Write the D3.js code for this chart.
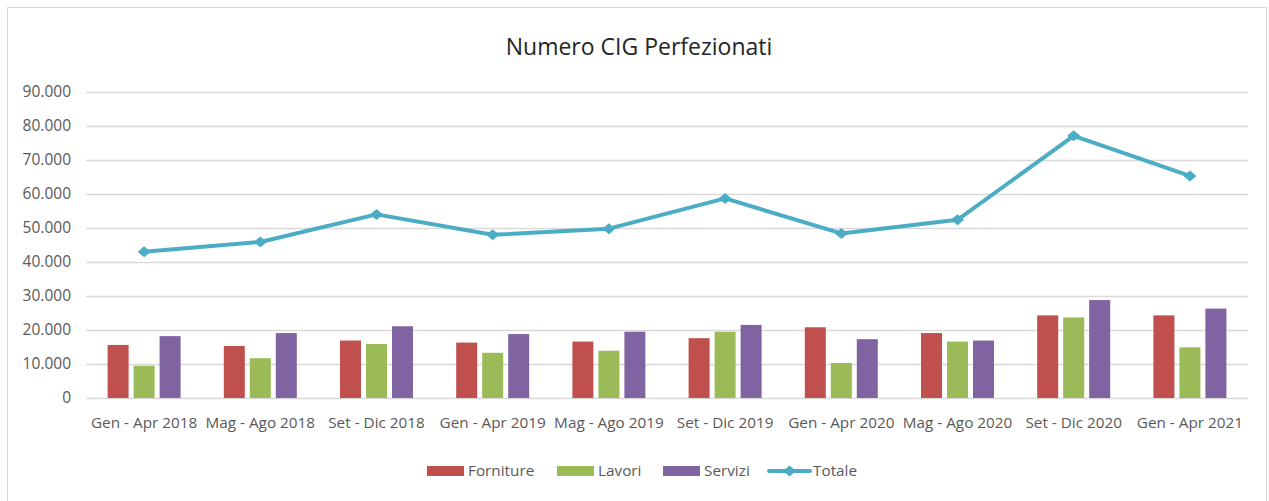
<!DOCTYPE html>
<html>
<head>
<meta charset="utf-8">
<script src="https://cdn.jsdelivr.net/npm/d3@7"></script>
<style>
  body { margin: 0; background: #fff; }
  svg { display: block; font-family: "Open Sans", sans-serif; }
</style>
</head>
<body>
<div id="chart"></div>
<script>
const categories = [
  'Gen - Apr 2018', 'Mag - Ago 2018', 'Set - Dic 2018',
  'Gen - Apr 2019', 'Mag - Ago 2019', 'Set - Dic 2019',
  'Gen - Apr 2020', 'Mag - Ago 2020', 'Set - Dic 2020',
  'Gen - Apr 2021'
];
const forniture = [15600, 15300, 16900, 16300, 16600, 17600, 20800, 19100, 24300, 24300];
const lavori    = [9500, 11700, 15900, 13300, 13900, 19500, 10300, 16600, 23700, 14900];
const servizi   = [18200, 19100, 21100, 18800, 19500, 21500, 17300, 16900, 28800, 26300];
const totale    = [43000, 45900, 54000, 48000, 49800, 58700, 48400, 52400, 77100, 65300];
const yTicks = [0, 10000, 20000, 30000, 40000, 50000, 60000, 70000, 80000, 90000];

const seriesNames = ['Forniture', 'Lavori', 'Servizi'];
const seriesColors = ['#C0504D', '#9BBB59', '#8064A2'];
const lineColor = '#4BACC6';

const width = 1269, height = 501;
const margin = { left: 86, right: 21, top: 92, bottom: 103 };

const svg = d3.select('#chart').append('svg')
  .attr('width', width)
  .attr('height', height);

// chart frame
svg.append('rect')
  .attr('x', 7.5).attr('y', 7.5)
  .attr('width', 1259).attr('height', 500)
  .attr('fill', 'none')
  .attr('stroke', '#d9d9d9');

svg.append('text')
  .attr('x', 639).attr('y', 55)
  .attr('text-anchor', 'middle')
  .attr('font-size', 23)
  .attr('fill', '#262626')
  .text('Numero CIG Perfezionati');

const x = d3.scaleBand()
  .domain(categories)
  .range([margin.left, width - margin.right]);

const y = d3.scaleLinear()
  .domain([0, 90000])
  .range([height - margin.bottom, margin.top]);

const fmt = v => v === 0 ? '0' : d3.format(',')(v).replace(/,/g, '.');

// gridlines
svg.append('g')
  .selectAll('line')
  .data(yTicks)
  .join('line')
  .attr('x1', margin.left).attr('x2', width - margin.right)
  .attr('y1', d => Math.round(y(d)) + 0.5).attr('y2', d => Math.round(y(d)) + 0.5)
  .attr('stroke', '#d9d9d9')
  .attr('stroke-width', 1.5);

// y axis labels
const yAxis = svg.append('g')
  .attr('transform', `translate(${margin.left},0)`)
  .call(d3.axisLeft(y).tickValues(yTicks).tickFormat(fmt).tickSize(0).tickPadding(15));
yAxis.select('.domain').remove();
yAxis.selectAll('text')
  .attr('font-family', '"Open Sans", sans-serif')
  .attr('font-size', 15.5)
  .attr('fill', '#595959');

// x axis labels
const xAxis = svg.append('g')
  .attr('transform', `translate(0,${height - margin.bottom})`)
  .call(d3.axisBottom(x).tickSize(0).tickPadding(19));
xAxis.select('.domain').remove();
xAxis.selectAll('text')
  .attr('font-family', '"Open Sans", sans-serif')
  .attr('font-size', 15.3)
  .attr('fill', '#595959');

// bars
const slot = 26, barW = 21;
const data = [forniture, lavori, servizi];
data.forEach((vals, si) => {
  svg.append('g')
    .selectAll('rect')
    .data(vals)
    .join('rect')
    .attr('x', (d, i) => x(categories[i]) + x.bandwidth() / 2 + (si - 1) * slot - barW / 2)
    .attr('y', d => y(d))
    .attr('width', barW)
    .attr('height', d => y(0) - y(d))
    .attr('fill', seriesColors[si]);
});

// total line
const cx = i => x(categories[i]) + x.bandwidth() / 2;
svg.append('path')
  .datum(totale)
  .attr('fill', 'none')
  .attr('stroke', lineColor)
  .attr('stroke-width', 4)
  .attr('stroke-linejoin', 'round')
  .attr('d', d3.line().x((d, i) => cx(i)).y(d => y(d)));

const diamond = 'M-6.5,0L0,-5.5L6.5,0L0,5.5Z';
svg.append('g')
  .selectAll('path')
  .data(totale)
  .join('path')
  .attr('transform', (d, i) => `translate(${cx(i)},${y(d)})`)
  .attr('d', diamond)
  .attr('fill', lineColor);

// legend
const legendY = 471;
const legend = svg.append('g');
const legendItems = [
  { name: 'Forniture', color: seriesColors[0], x: 427, type: 'bar' },
  { name: 'Lavori', color: seriesColors[1], x: 557, type: 'bar' },
  { name: 'Servizi', color: seriesColors[2], x: 663, type: 'bar' },
  { name: 'Totale', color: lineColor, x: 769, type: 'line' }
];
legendItems.forEach(it => {
  if (it.type === 'bar') {
    legend.append('rect')
      .attr('x', it.x).attr('y', legendY - 5)
      .attr('width', 37).attr('height', 10)
      .attr('fill', it.color);
  } else {
    legend.append('line')
      .attr('x1', it.x).attr('x2', it.x + 41)
      .attr('y1', legendY).attr('y2', legendY)
      .attr('stroke', it.color).attr('stroke-width', 4)
      .attr('stroke-linecap', 'round');
    legend.append('path')
      .attr('transform', `translate(${it.x + 20.5},${legendY})`)
      .attr('d', diamond)
      .attr('fill', it.color);
  }
  legend.append('text')
    .attr('x', it.x + (it.type === 'bar' ? 41 : 44))
    .attr('y', legendY)
    .attr('dy', '0.35em')
    .attr('font-size', 15.3)
    .attr('fill', '#595959')
    .text(it.name);
});
</script>
</body>
</html>
